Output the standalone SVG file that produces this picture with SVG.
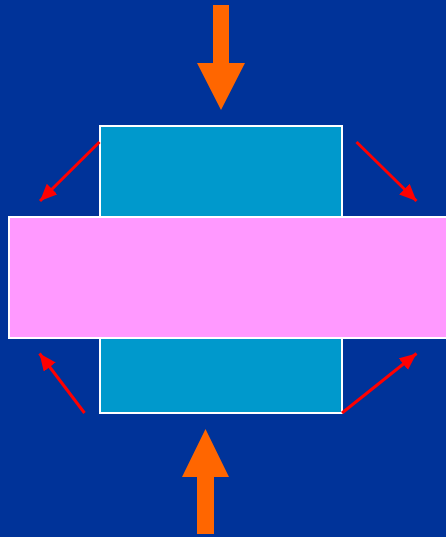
<svg xmlns="http://www.w3.org/2000/svg" width="446" height="537" viewBox="0 0 446 537">
  <style>
    .bg { fill: #003399; }
    .block { fill: #0099CC; stroke: #FFFFFF; stroke-width: 2; }
    .sheet { fill: #FF99FF; stroke: #FFFFFF; stroke-width: 2; }
    .force { fill: #FF6600; }
    .flow { stroke: #FF0000; stroke-width: 3; fill: none; marker-end: url(#redHead); }
  </style>
  <defs>
    <marker id="redHead" markerUnits="userSpaceOnUse" markerWidth="18" markerHeight="16" refX="17" refY="7.5" orient="auto">
      <path d="M0,0 L17,7.5 L0,15 z" fill="#FF0000"/>
    </marker>
  </defs>
  <rect class="bg" x="0" y="0" width="446" height="537"/>
  <g id="block">
    <rect class="block" x="100" y="126" width="242" height="287"/>
  </g>
  <g id="sheet">
    <rect class="sheet" x="9" y="217" width="440" height="121"/>
  </g>
  <g id="force-top">
    <polygon class="force" points="213,5 229,5 229,63 245,63 221,110 197,63 213,63"/>
  </g>
  <g id="force-bottom">
    <polygon class="force" points="197,534 214,534 214,477 229,477 205.5,429 182,477 197,477"/>
  </g>
  <g id="connectors">
    <line class="flow" x1="99.5" y1="142" x2="40" y2="201"/>
    <line class="flow" x1="356.5" y1="142" x2="416.5" y2="201"/>
    <line class="flow" x1="84.5" y1="413" x2="39.5" y2="353.5"/>
    <line class="flow" x1="342" y1="413" x2="416.5" y2="353.5"/>
  </g>
</svg>
